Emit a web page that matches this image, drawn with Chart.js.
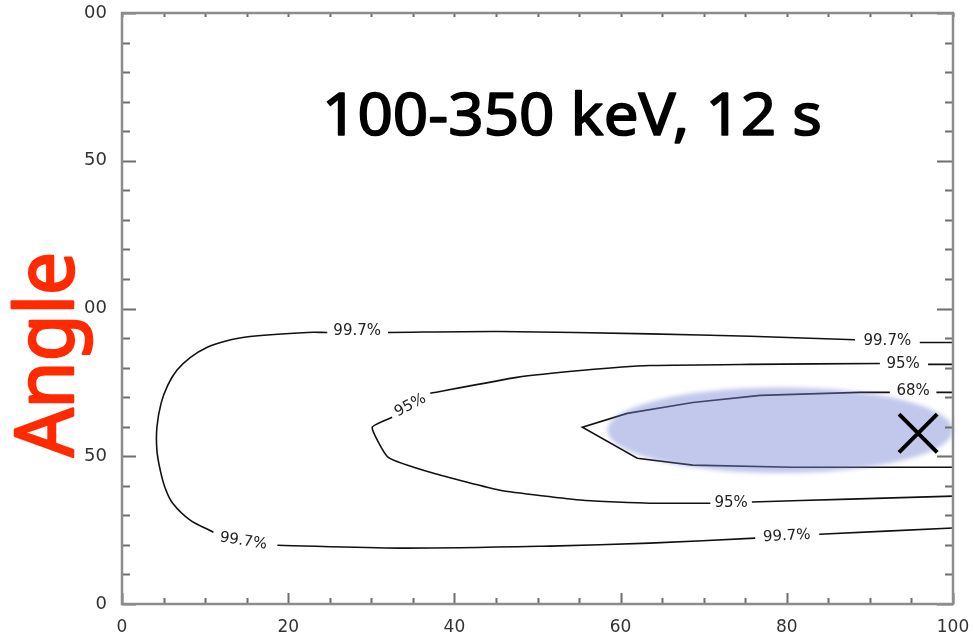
<!DOCTYPE html>
<html>
<head>
<meta charset="utf-8">
<script src="https://cdn.jsdelivr.net/npm/chart.js@4/dist/chart.umd.min.js"></script>
<style>
  html, body { margin: 0; padding: 0; background: #ffffff; }
</style>
</head>
<body>
<canvas id="c" width="973" height="642"></canvas>
<script>
// ---------- data ----------
const titleText = "100-350 keV, 12 s";
const yAxisTitle = "Angle";

const xTickValues = [0, 20, 40, 60, 80, 100];
const yTickValues = [0, 50, 100, 150, 200];
const yTickLabels = ["0", "50", "00", "50", "00"];   // as visible (cropped) in the picture

// 99.7% contour (null = gap for a label)
const contour997X = [100, 96.0, null, 88.2, 75.6, 63.5, 45.5, 32.0, null,
  24.7, 22.3, 15.4, 12.4, 10.2, 8.2, 6.6, 5.5, 4.7, 4.2, 4.2, 4.6, 5.2, 6.1, 8.2, 11.0, null,
  18.7, 33.5, 51.5, 63.5, 76.2, null, 83.9, 100];
const contour997Y = [88.5, 88.5, null, 89.4, 90.6, 91.4, 92.2, 91.9, null,
  91.9, 91.9, 90.5, 88.9, 86.8, 83.4, 79.1, 74.0, 67.9, 59.8, 52.0, 45.3, 39.2, 34.1, 28.4, 24.3, null,
  19.9, 18.9, 19.6, 20.6, 22.3, null, 23.6, 25.7];

// 95% contour
const contour95X = [100, 97.0, null, 91.2, 75.6, 63.5, 55.5, 47.5, 37.1, null,
  32.5, 30.1, 32.0, 37.4, 45.5, 55.5, 63.5, 70.8, null, 75.8, 87.6, 100];
const contour95Y = [81.1, 81.1, null, 81.4, 81.1, 80.7, 79.1, 76.7, 71.3, null,
  63.2, 59.8, 49.7, 44.3, 38.5, 35.1, 34.1, 34.1, null, 34.5, 35.5, 36.5];

// 68% contour
const contour68X = [100, 98.0, null, 92.4, 88.8, 76.8, 68.7, 60.8, 55.4, 62.0, 68.7, 80.7, 100];
const contour68Y = [71.6, 71.6, null, 71.6, 71.6, 70.6, 68.2, 64.5, 59.8, 49.3, 47.0, 46.3, 46.3];

// contour labels (data coordinates)
const labelTexts  = ["99.7%", "99.7%", "99.7%", "99.7%", "95%", "95%", "95%", "68%"];
const labelX      = [92.1, 28.3, 14.6, 80.0, 94.0, 34.7, 73.3, 95.2];
const labelY      = [88.9, 92.2, 21.3, 23.0, 81.1, 67.2, 34.1, 72.0];
const labelAngles = [0, 0, 9, -3, 0, -28, 0, 0];

// best-fit marker and shaded region
const markerX = [95.8];
const markerY = [57.8];
const regionCenter = [79.2, 58.8];
const regionRadii = [20.8, 14.5];

// ---------- helpers ----------
Chart.defaults.font.family = '"DejaVu Sans"';
Chart.defaults.font.size = 18;
Chart.defaults.color = '#333';

function toPoints(xs, ys) {
  return xs.map((x, i) => ({ x: x, y: ys[i] }));
}

const regionPlugin = {
  id: 'region',
  afterDatasetDraw(chart, args) {
    if (args.index !== 1) return;
    const xs = chart.scales.x, ys = chart.scales.y;
    const cx = xs.getPixelForValue(regionCenter[0]);
    const cy = ys.getPixelForValue(regionCenter[1]);
    const rx = Math.abs(xs.getPixelForValue(regionCenter[0] + regionRadii[0]) - cx);
    const ry = Math.abs(ys.getPixelForValue(regionCenter[1] + regionRadii[1]) - cy);
    const ctx = chart.ctx;
    ctx.save();
    ctx.filter = 'blur(2px)';
    ctx.fillStyle = 'rgba(118,132,210,0.45)';
    ctx.beginPath();
    ctx.ellipse(cx, cy, rx, ry, 0, 0, Math.PI * 2);
    ctx.fill();
    ctx.restore();
  }
};

const decorPlugin = {
  id: 'decor',
  afterDatasetsDraw(chart) {
    const ctx = chart.ctx;
    const xs = chart.scales.x, ys = chart.scales.y;
    ctx.save();
    ctx.font = '15px "DejaVu Sans"';
    ctx.fillStyle = '#222';
    ctx.textAlign = 'center';
    ctx.textBaseline = 'middle';
    labelTexts.forEach((t, i) => {
      const px = xs.getPixelForValue(labelX[i]);
      const py = ys.getPixelForValue(labelY[i]);
      ctx.save();
      ctx.translate(px, py);
      ctx.rotate(labelAngles[i] * Math.PI / 180);
      ctx.fillText(t, 0, 0);
      ctx.restore();
    });
    ctx.restore();
  },
  afterDraw(chart) {
    const ctx = chart.ctx;
    const a = chart.chartArea;
    const xs = chart.scales.x, ys = chart.scales.y;
    ctx.save();
    // ticks
    ctx.strokeStyle = '#6e6e6e';
    ctx.lineWidth = 2;
    ctx.beginPath();
    for (let v = 0; v <= 100; v += 5) {
      const px = Math.round(xs.getPixelForValue(v)) + 0.5;
      const major = v % 20 === 0;
      const lb = major ? 11 : 6;
      ctx.moveTo(px, a.bottom); ctx.lineTo(px, a.bottom - lb);
      ctx.moveTo(px, a.top); ctx.lineTo(px, a.top + 4);
    }
    for (let v = 0; v <= 200; v += 10) {
      const py = Math.round(ys.getPixelForValue(v)) + 0.5;
      const major = v % 50 === 0;
      ctx.moveTo(a.left, py); ctx.lineTo(a.left + (major ? 14 : 8), py);
      ctx.moveTo(a.right, py); ctx.lineTo(a.right - (major ? 16 : 8), py);
    }
    ctx.stroke();
    // frame
    ctx.strokeStyle = '#8c8c8c';
    ctx.lineWidth = 2.5;
    ctx.strokeRect(a.left, a.top, a.right - a.left, a.bottom - a.top);

    // title
    ctx.fillStyle = '#000';
    ctx.strokeStyle = '#000';
    ctx.lineWidth = 1.6;
    ctx.lineJoin = 'round';
    ctx.font = '58px "Noto Sans"';
    ctx.textBaseline = 'alphabetic';
    ctx.textAlign = 'left';
    const tw = ctx.measureText(titleText).width;
    ctx.save();
    ctx.translate(322, 135);
    ctx.scale(500 / tw, 1);
    ctx.fillText(titleText, 0, 0);
    ctx.strokeText(titleText, 0, 0);
    ctx.restore();

    // y axis title (red)
    ctx.fillStyle = '#ff2a00';
    ctx.strokeStyle = '#ff2a00';
    ctx.lineWidth = 2.5;
    ctx.font = '80px "Noto Sans"';
    const aw = ctx.measureText(yAxisTitle).width;
    ctx.save();
    ctx.translate(73, 457);
    ctx.rotate(-Math.PI / 2);
    ctx.scale(205 / aw, 1);
    ctx.fillText(yAxisTitle, 0, 0);
    ctx.strokeText(yAxisTitle, 0, 0);
    ctx.restore();
    ctx.restore();
  }
};

const lineStyle = {
  showLine: true,
  borderColor: '#111',
  borderWidth: 1.6,
  pointRadius: 0,
  fill: false,
  spanGaps: false
};

function zeroPad(s) { s.paddingTop = 0; s.paddingBottom = 0; s.paddingLeft = 0; s.paddingRight = 0; }

new Chart(document.getElementById('c'), {
  type: 'scatter',
  data: {
    datasets: [
      {
        label: 'best fit',
        data: toPoints(markerX, markerY),
        pointStyle: 'crossRot',
        pointRadius: 27,
        pointBorderWidth: 4,
        pointBorderColor: '#000',
        borderColor: '#000',
        showLine: false,
        clip: false
      },
      Object.assign({ label: '68%', data: toPoints(contour68X, contour68Y), tension: 0 }, lineStyle),
      Object.assign({ label: '95%', data: toPoints(contour95X, contour95Y), tension: 0.15 }, lineStyle),
      Object.assign({ label: '99.7%', data: toPoints(contour997X, contour997Y), tension: 0.3 }, lineStyle)
    ]
  },
  options: {
    responsive: false,
    animation: false,
    devicePixelRatio: 1,
    layout: { autoPadding: false, padding: { top: 13, right: 20, left: 0, bottom: 0 } },
    plugins: { legend: { display: false }, tooltip: { enabled: false } },
    scales: {
      x: {
        type: 'linear', min: 0, max: 100,
        grid: { display: false }, border: { display: false },
        ticks: {
          stepSize: 20, padding: 5, color: '#333', maxRotation: 0,
          font: { family: '"DejaVu Sans"', size: 17 },
          callback: (v) => xTickValues.indexOf(v) >= 0 ? String(v) : ''
        },
        afterFit: s => { s.height = 38; zeroPad(s); }
      },
      y: {
        type: 'linear', min: 0, max: 200,
        grid: { display: false }, border: { display: false },
        ticks: {
          stepSize: 50, padding: 7, color: '#333',
          font: { family: '"DejaVu Sans"', size: 18 },
          callback: (v) => { const i = yTickValues.indexOf(v); return i >= 0 ? yTickLabels[i] : ''; }
        },
        afterFit: s => { s.width = 122; zeroPad(s); }
      }
    }
  },
  plugins: [regionPlugin, decorPlugin]
});
</script>
</body>
</html>
